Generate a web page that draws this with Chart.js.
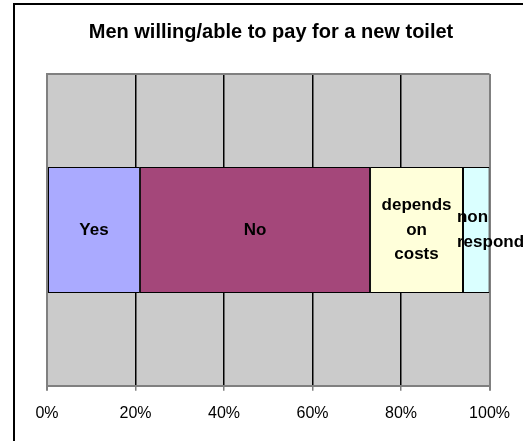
<!DOCTYPE html>
<html>
<head>
<meta charset="utf-8">
<script src="https://cdn.jsdelivr.net/npm/chart.js@4"></script>
<style>
  html, body { margin: 0; padding: 0; background: #fff; overflow: hidden; }
  #wrap { position: relative; width: 523px; height: 441px; }
  #frame { position: absolute; left: 13px; top: 3px; width: 600px; height: 500px;
           border-left: 2px solid #000; border-top: 2px solid #000; }
  canvas { position: absolute; left: 0; top: 0; }
</style>
</head>
<body>
<div id="wrap">
  <div id="frame"></div>
  <canvas id="payChart" width="523" height="441"></canvas>
</div>
<script>
// Share of men willing/able to pay for a new toilet (percent of answers)
const answers = [['Yes'], ['No'], ['depends', 'on', 'costs'], ['non', 'respond']];
const shares = [21, 52, 21, 6];
const segmentColors = ['#AAAAFF', '#A4477A', '#FFFFDA', '#DAFFFF'];
const percentTicks = [0, 20, 40, 60, 80, 100];

const plotGray = '#CBCBCB';
const edgeGray = '#808080';

// gray plot background plus its outline
const plotBackground = {
  id: 'plotBackground',
  beforeDraw(chart) {
    const { ctx, chartArea: a } = chart;
    ctx.save();
    ctx.fillStyle = plotGray;
    ctx.fillRect(a.left, a.top, a.right - a.left, a.bottom - a.top);
    ctx.restore();
  },
  afterDraw(chart) {
    const { ctx, chartArea: a } = chart;
    ctx.save();
    ctx.strokeStyle = edgeGray;
    ctx.lineWidth = 2;
    ctx.beginPath();
    ctx.moveTo(a.left, a.bottom);
    ctx.lineTo(a.left, a.top);
    ctx.lineTo(a.right, a.top);
    ctx.stroke();
    ctx.restore();
  }
};

// category names written inside each segment
const segmentLabels = {
  id: 'segmentLabels',
  afterDatasetsDraw(chart) {
    const { ctx } = chart;
    ctx.save();
    ctx.font = 'bold 17px "Liberation Sans", Arial, sans-serif';
    ctx.fillStyle = '#000';
    ctx.textBaseline = 'middle';
    const lineH = 24.5;
    chart.data.datasets.forEach((ds, i) => {
      const bar = chart.getDatasetMeta(i).data[0];
      const lines = answers[i];
      const left = Math.min(bar.x, bar.base);
      const width = Math.abs(bar.x - bar.base);
      const textW = Math.max(...lines.map(l => ctx.measureText(l).width));
      const y0 = bar.y - (lines.length - 1) * lineH / 2;
      lines.forEach((line, k) => {
        if (textW > width) {
          ctx.textAlign = 'left';
          ctx.fillText(line, left - 6, y0 + k * lineH);
        } else {
          ctx.textAlign = 'center';
          ctx.fillText(line, left + width / 2, y0 + k * lineH);
        }
      });
    });
    ctx.restore();
  }
};

new Chart(document.getElementById('payChart'), {
  type: 'bar',
  data: {
    labels: [''],
    datasets: answers.map((a, i) => ({
      label: a.join(' '),
      data: [shares[i]],
      backgroundColor: segmentColors[i],
      borderColor: '#000',
      borderWidth: 1,
      borderSkipped: false,
      barPercentage: 1,
      categoryPercentage: 0.404
    }))
  },
  options: {
    indexAxis: 'y',
    responsive: false,
    animation: false,
    layout: { padding: { left: 47, right: 28, top: 0, bottom: 5 } },
    scales: {
      x: {
        stacked: true,
        min: 0,
        max: 100,
        afterBuildTicks(axis) {
          axis.ticks = percentTicks.map(v => ({ value: v }));
        },
        border: { display: true, color: edgeGray, width: 2 },
        grid: {
          color: c => (c.tick && (c.tick.value === 0 || c.tick.value === 100)) ? edgeGray : '#000',
          lineWidth: c => (c.tick && (c.tick.value === 0 || c.tick.value === 100)) ? 2 : 1.5,
          tickColor: edgeGray,
          tickLength: 5,
          drawTicks: true
        },
        ticks: {
          color: '#000',
          padding: 13,
          maxRotation: 0,
          font: { family: '"Liberation Sans", Arial, sans-serif', size: 16 },
          callback: v => v + '%'
        }
      },
      y: {
        stacked: true,
        display: false
      }
    },
    plugins: {
      legend: { display: false },
      tooltip: { enabled: false },
      title: {
        display: true,
        text: 'Men willing/able to pay for a new toilet',
        color: '#000',
        font: { family: '"Liberation Sans", Arial, sans-serif', size: 20, weight: 'bold' },
        padding: { top: 20, bottom: 30 }
      }
    }
  },
  plugins: [plotBackground, segmentLabels]
});
</script>
</body>
</html>
